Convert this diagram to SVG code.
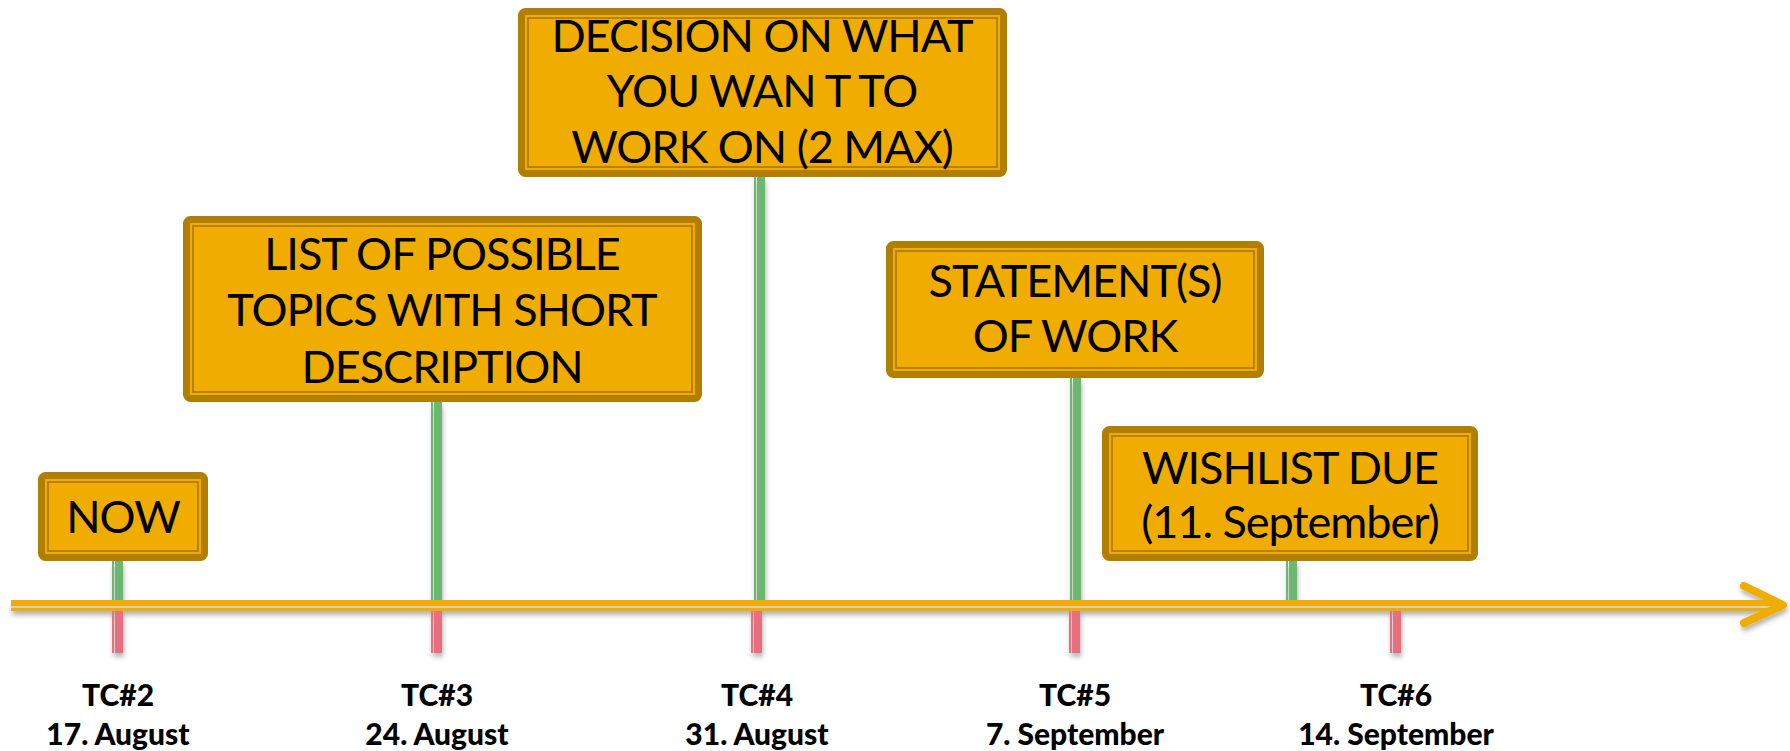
<svg xmlns="http://www.w3.org/2000/svg" width="1790" height="751" viewBox="0 0 1790 751">
  <defs>
    <style>
      .box { fill: #F0AC00; stroke: #B27E00; stroke-width: 7; }
      .inner { fill: none; stroke: #B27E00; stroke-width: 1.8; }
      .btxt { font-family: Lato, "Open Sans", "Liberation Sans", sans-serif; font-size: 45px; letter-spacing: -1px; fill: #000; text-anchor: middle; }
      .ltxt { font-family: Lato, "Open Sans", "Liberation Sans", sans-serif; font-weight: 900; font-size: 30px; fill: #000; text-anchor: middle; }
      .green { fill: #6CB86E; }
      .red { fill: #E8707E; }
      .axis { fill: #F0AC00; }
    </style>
    <filter id="sh" x="-20%" y="-50%" width="140%" height="300%">
      <feGaussianBlur in="SourceAlpha" stdDeviation="2.5"/>
      <feOffset dx="1" dy="4" result="b"/>
      <feComponentTransfer><feFuncA type="linear" slope="0.3"/></feComponentTransfer>
      <feMerge><feMergeNode/><feMergeNode in="SourceGraphic"/></feMerge>
    </filter>
  </defs>
  <rect width="1790" height="751" fill="#fff"/>

  <g id="connectors">
    <g filter="url(#sh)">
      <g class="green">
        <rect x="112" y="561" width="2" height="40"/><rect x="115" y="561" width="8" height="40"/>
        <rect x="431" y="402" width="2" height="199"/><rect x="434" y="402" width="8" height="199"/>
        <rect x="754" y="177" width="2" height="424"/><rect x="757" y="177" width="8" height="424"/>
        <rect x="1070" y="378" width="2" height="223"/><rect x="1073" y="378" width="8" height="223"/>
        <rect x="1286" y="561" width="2" height="40"/><rect x="1289" y="561" width="8" height="40"/>
      </g>
      <g class="red">
        <rect x="112" y="606" width="2" height="47"/><rect x="115" y="606" width="8" height="47"/>
        <rect x="431" y="606" width="2" height="47"/><rect x="434" y="606" width="8" height="47"/>
        <rect x="751" y="606" width="2" height="47"/><rect x="754" y="606" width="8" height="47"/>
        <rect x="1069" y="606" width="2" height="47"/><rect x="1072" y="606" width="8" height="47"/>
        <rect x="1390" y="606" width="2" height="47"/><rect x="1393" y="606" width="8" height="47"/>
      </g>
      <rect class="axis" x="11" y="600" width="1770" height="6"/>
      <rect x="11" y="606" width="1770" height="2" fill="#D8D0C0"/>
      <rect class="axis" x="11" y="608" width="1770" height="3"/>
      <polyline points="1744,586 1783,605 1744,623" fill="none" stroke="#F0AC00" stroke-width="8" stroke-linecap="round" stroke-linejoin="round"/>
    </g>
  </g>

  <g id="node-now">
    <rect class="box" x="41.5" y="475.5" width="163" height="82" rx="4"/>
    <rect class="inner" x="48" y="482" width="150" height="69"/>
    <text class="btxt" x="123" y="533">NOW</text>
  </g>

  <g id="node-list">
    <rect class="box" x="186.5" y="219.5" width="512" height="179" rx="4"/>
    <rect class="inner" x="193" y="226" width="499" height="166"/>
    <text class="btxt" x="442" y="270">LIST OF POSSIBLE</text>
    <text class="btxt" x="442" y="326">TOPICS WITH SHORT</text>
    <text class="btxt" x="442" y="383">DESCRIPTION</text>
  </g>

  <g id="node-decision">
    <rect class="box" x="521.5" y="11.5" width="482" height="162" rx="4"/>
    <rect class="inner" x="528" y="18" width="469" height="149"/>
    <text class="btxt" x="762" y="52">DECISION ON WHAT</text>
    <text class="btxt" x="762" y="107">YOU WAN T TO</text>
    <text class="btxt" x="762" y="163">WORK ON (2 MAX)</text>
  </g>

  <g id="node-statement">
    <rect class="box" x="889.5" y="244.5" width="371" height="130" rx="4"/>
    <rect class="inner" x="896" y="251" width="358" height="117"/>
    <text class="btxt" x="1075" y="297">STATEMENT(S)</text>
    <text class="btxt" x="1075" y="352">OF WORK</text>
  </g>

  <g id="node-wishlist">
    <rect class="box" x="1105.5" y="429.5" width="369" height="128" rx="4"/>
    <rect class="inner" x="1112" y="436" width="356" height="115"/>
    <text class="btxt" x="1290" y="484">WISHLIST DUE</text>
    <text class="btxt" x="1290" y="538">(11. September)</text>
  </g>

  <g id="labels">
    <g id="label-tc2"><text class="ltxt" x="118" y="706">TC#2</text><text class="ltxt" x="118" y="745">17. August</text></g>
    <g id="label-tc3"><text class="ltxt" x="437" y="706">TC#3</text><text class="ltxt" x="437" y="745">24. August</text></g>
    <g id="label-tc4"><text class="ltxt" x="757" y="706">TC#4</text><text class="ltxt" x="757" y="745">31. August</text></g>
    <g id="label-tc5"><text class="ltxt" x="1075" y="706">TC#5</text><text class="ltxt" x="1075" y="745">7. September</text></g>
    <g id="label-tc6"><text class="ltxt" x="1396" y="706">TC#6</text><text class="ltxt" x="1396" y="745">14. September</text></g>
  </g>
</svg>
